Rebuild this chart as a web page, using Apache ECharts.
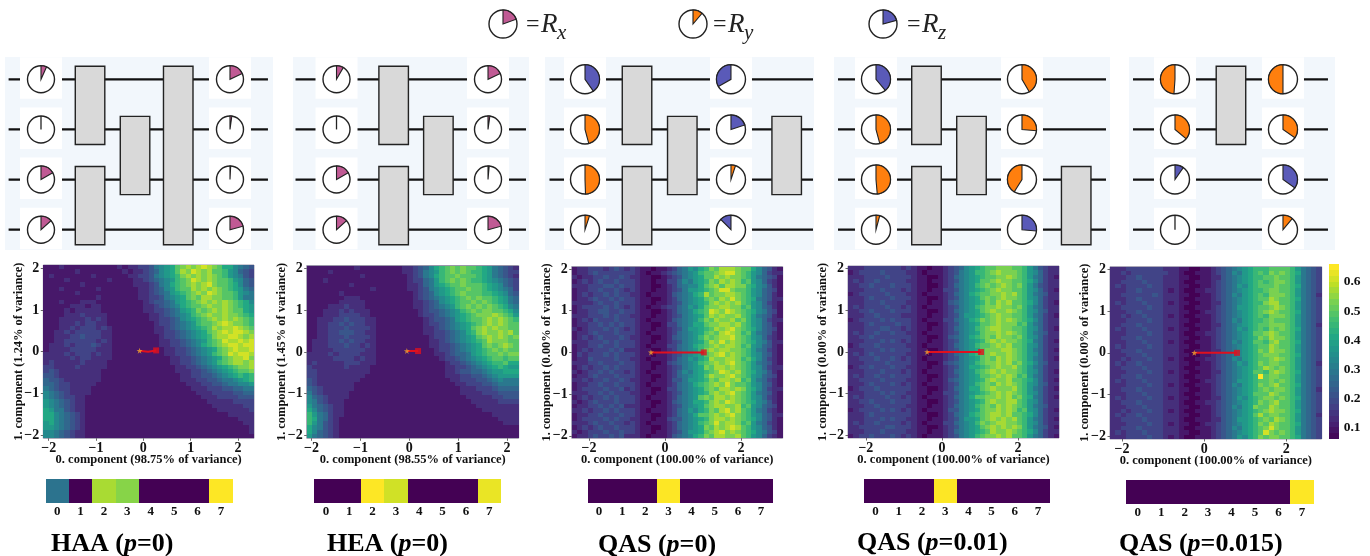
<!DOCTYPE html>
<html><head><meta charset="utf-8">
<style>html,body{margin:0;padding:0;background:#fff}#c{width:1370px;height:556px;filter:blur(0.45px)}</style>
<script src="https://cdn.jsdelivr.net/npm/echarts@6/dist/echarts.min.js"></script>
</head><body><div id="c"></div>
<script>
// ---------- values ----------
// heat levels (hex digit per cell, 0 = 0.06 ... f = 0.65), top row first
const haaRows=[
"1112111111111121223346789bcdcdedcb997654","1111112111111112122345789bdcedcdbba87543","1211111112111111223346789acdcdcdcba87643",
"1111211111112111122345678abcedcdcbba8754","1111111211111111122234679abcdcdecbba9754","1112111111211111112234578abbdcdcdcba9865",
"1111112111111111112234568 9abcdcedcbba876","1111111111211111112233467 89bcbddccbba86","1112111222111111111234456 89abcdcdcdcba97",
"1111122212211111111223456 79abbcdccdcba98","1111212222211111111223345 689acbcdcdcbb98","1111222322221111111122345 678abcdccdccba9",
"1112222232321111111122334 5789abcdcdcdcba","1112223233221111111112334 5678abbcdedccba","1112232333232111111112234 56789abdcddedcb",
"1122323333322111111112233 4567 89bcdedeedc","1122233433322111111111233 4 56789acddeedcd","1122333333232111111111223 34567 8abceddede",
"1222323334322111111111223 3 45679abcdeedee","1222233333222111111111122 33456 789bcdedde","2222323332322111111111122 334567 8abcedeed",
"2222232332222111111111112 23345 6789bcddec","2322222322221111111111112 2334 5678abcddcd","3322223222221111111111111 22334 5678 9abccdb",
"3432222222211111111111111 22233 4567 89abbcb","4432222222211111111111111 12233 4456 789a9ab","5443222222211111111111111 1222334 456 6789a9",
"5543322222111111111111111 1122233 445 66778","6543322221111111111111111 1112223 3344 5566","7654322221111111111111111 1111222 3333 4455",
"7654332211111111111111111 1111122 2333 3444","8765432211111111111111111 1111112 2222 3333","8765432211111111111111111 1111111 2222 2233",
"9866432211111111111111111 1111111 1222 2223","9976543211111111111111111 1111111 1112 2222","9976543211111111111111111 1111111 1111 1222",
"8976543211111111111111111 1111111 1111 1122","8876543211111111111111111 1111111 1111 1112","7765432211111111111111111 1111111 1111 1112","7765432211111111111111111 1111111 1111 1111"];
const heaRows=[
"1111111112111111112234579abcbcbba9865432","1111211111111111112234678abcbcbaa9865433","1111111111211111111234679abbcbbba9865432",
"1112111111111111111233568abcbcbaa9876543","1111111121111111111223568 9abbcbbba987543","1111111111112111111223467 89abbcbba987653",
"1111112111111111111123457 89abcbbbaa98754","1111111222111111111123456 789abcbcbba9865","1111112222211111111122345 789abbcbcba9865",
"1111222322211111111122345 678abcbcbcba976","1112223232221111111112344 5678abcbccbba97","1112223333221111111112334 56789abcccdcba8",
"1122233433322111111111234 45689abbcdcdcba","1122334343322111111111233 45678 9abcdcdcbb","1122333433332111111111223 4567 89bcdcdccb",
"1122334443322111111111223 3 45679acdccdcdb","1122333433332111111111123 345678 9bcdcdcbc","1222334343322111111111122 34567 89abdcccb",
"1222333433232111111111122 33456 789bcbcdcb","1222233333322111111111112 33456 789abcbcbb","2222323333222111111111112 2345 5689abbcbc",
"2222233332322111111111111 2334 5678 9abbab","2322222333222111111111111 12334 567 89aab9","3222222322221111111111111 12233 456 789a98",
"3322222222221111111111111 1223 4455 67889","3322222222211111111111111 1222 3344 56788","4322222222111111111111111 1122 3334 45676",
"4322222221111111111111111 1112 2333 44566","5432222221111111111111111 1111 2223 33455","6432222211111111111111111 1111 2222 33344",
"7543222211111111111111111 1111 1222 22334","7643222111111111111111111 1111 1122 22233","8654322111111111111111111 1111 1112 22222",
"9754322111111111111111111 1111 1111 22222","a865322111111111111111111 1111 1111 11222","a965321111111111111111111 1111 1111 11122",
"a864321111111111111111111 1111 1111 11112","9764321111111111111111111 1111 1111 11111","9754321111111111111111111 1111 1111 11111","8654321111111111111111111 1111 1111 11111"];
const qas0Rows=[
"12233323432321101123 56879acbdddcbb975421","12234333333321011234 5678abbcdeecba875322","21223343343221100123 46789bbdcdccba865431",
"12323433433321101133 57689acbdcdcab875321","22233344343321100123 56779bcdbddcca976421","12233433432321101123 46889abceecbba875431",
"12323343433221011124 5679adbccddcba875421","12234334343321100123 56789bcbdcecba965422","22223433433321101123 46789acdcdcdba875321",
"12333343432321011233 56879bccddccab875421","12233443343321100123 5679abedcedcba976431","22233343433221101123 46789bdcdccdba865421",
"12324333433321011124 5678acbdccdbca875322","12233434343321100133 56799bccddcdba875421","21233343432321101123 46889abdcdecba975431",
"12234333433321011123 56789bcbdedcab865421","12323433343221100124 5678acbcddecba875321","22233343433321101123 46789bdcecdcba976422",
"12233433433321011133 5679abcdcddcab875421","12323334342221100123 5678acdcddccba865321","13233343433321101123 46789bcdecdcba875421",
"12243333433221011123 56879adccddcab975321","22233433343321100134 5678abcdcdecba865421","12323343433321101123 46789cbddcdcba875322",
"21233434332321011123 57689abcedcdba976421","12234333433321100123 56789bdccdecba875431","22323343343221101124 46889acbddcdab865321",
"12233433433321011123 5679abcdcecbba875421","12333343342321100133 56789bcbddcdca975322","22233434333221101123 46789acdcdecba865421",
"12323343433321011123 5678bcbddcdcba875321","21234333433321100124 56799acdcedcba976421","12233434342221101123 46789bcddccdab875431",
"22323343433321011123 56879acbdecdba865321","12233433343321100123 5679bbcdcdecba875422","12333343433221101134 46789acddcdcba975421",
"22234334332321011123 5678abcecddcab865321","12323433433321100123 56789cbdcdedba875421","21233343343321101123 46889bcdecdcba976431","12234334342221011124 5679acbddccdba875321"];
const qas1Rows=[
"22233333332321101123 45789abbcccbba864322","12333343333221011123 4678aabcdcccba875322","22233334333321100123 56789abbccdcba865321",
"23233433333221101123 46789bbcdccbba975322","22334333433321100123 5678abcbcdcbca864322","22233343332321101133 46789abcdccbba875321",
"12333334333221011123 5679abbccdcdba865422","22234333433321100123 46789bcbcdccba875322","22233343333221101124 56789acbdcdbba975321",
"23233334332321011123 4678abccdccbca865322","22334333433321100123 56789bcdccdcba875422","22233433332221101123 46889abcdccbba865321",
"12333343433321011133 5679acbcdcdcba975322","22234333343321100123 46789bbcdcccab865322","22233344332321101123 5678abcddccbba875321",
"23233433433221011123 46789bccdcdcba865422","22334333333321100124 5679abcbdccbca875322","22233343432321101123 46789acdcdccba965321",
"12333433333221011123 5678abbcdcdbba875322","22233343433321100123 46789bcccddcba865321","23234333333221101123 5679abcdccdcba875322",
"22333433432321011123 46789bcbdcdcba865321","22233334333321100134 5678abccdcdbca975422","12334333433221101123 46799abcdccdba865322",
"22233343332321011123 5678abcdcdccba875321","23233433433321100123 46789bbcdcdcab865322","22333343333221101124 56789acdccdbba975321",
"22234333432321011123 4678abcbdcdcba875422","12333433333321100123 56799bcdcccdba865321","22233343433221101133 46789abcdcdcba875322",
"23233334332321011123 5679bbccdcdbca965321","22334333433321100123 46789acdccddba875322","22233433333221101123 5678abcbdcdcba865422",
"12333343432321011124 46789bccdcdcab875321","22234333333321100123 5679abcddcdbba975322","22233343433221101123 46889bcdcdcdba865321",
"23233433332321011133 5678acbcddccba875322","22333334433321100123 46789bcdcdcdca865421","22233343333221101123 56789abdccdcba975322","12334333432321011123 4678abccdcdbba865321"];
const qas2Rows=[
"22233333332221100112 3456789aaabbbba8654333","22323333333221001112 3457689abacbcba9654333","22233433332221100112 2456789aabbcbba8654323",
"22333343332221001112 3456789ababccba8654333","23233334332221100112 3456879abbbcbba9654323","22233433332121001122 3456789aabccbba8654333",
"22333333432221100112 3457689abacccba8654233","22233433332221001112 3456789abbdcbba9654333","23233343332121100112 2456789aacddbba8654323",
"22333334332221001112 3456889abbcdcba8654333","22233433332221100122 3456789abcdcbba9654333","22323343332121001112 3456789abacccba8654323",
"22233334332221100112 3457689aabcbbba8654333","22333433332221001112 2456789abbcccba8654233","23233343332121100112 3456879abacbcba9654333",
"22233334332221001122 3456789bbcdcbba8654323","22333433332221100112 3456789acbdccba8654333","22233343332121001112 3457689bbacdbba9654333",
"23233334332221100112 3456789abbdcbba8654323","22333433332221001112 2456789acbdccba8654333","22233343332221100112 3456789abcccbba9654323",
"22323334332121001122 3457689abbcdcba8654333","23233433332221100112 3456879acbccbba8654233","22333343332221001112 3456789abdcbcba8654333",
"22233334332121100112 2456789bbacdcba9654323","22333433332221001112 3456789afbccbba8654333","23233343332221100122 3456889abbcbcba8654333",
"22233334332121001112 3457689acbcdbba9654323","22333433332221100112 3456789abcbccba8654233","22233343332221001112 3456789bbbdcbba8654333",
"23233334332121100112 2456879abccbcba9654333","22333433332221001122 3456789acbcdbba8654323","22233343332221100112 3457689cbbdcbba8654333",
"22323334332121001112 3456789abcdccba9654333","23233433332221100112 3456789bdbccbba8654233","22333343332221001112 2456889abcbdcba8654333",
"22233334332121100122 3456789acbdcbba9654323","22333433332221001112 3457689abcecbba8654333","23233343332221100112 3456789abecbcba8654333","22233334332121001112 3456879acbccbba9654323"];
const colorbarValues=[0.061,0.081,0.101,0.121,0.141,0.161,0.181,0.201,0.221,0.241,0.261,0.281,0.301,0.321,0.341,0.361,0.381,0.401,0.421,0.441,0.461,0.481,0.501,0.521,0.541,0.561,0.581,0.601,0.621,0.641];
const colorbarTicks=[0.1,0.2,0.3,0.4,0.5,0.6];
// eight-cell strips under the maps
const haaStrip=[0.38,0,0.87,0.82,0,0,0,1];
const heaStrip=[0,0,1,0.93,0,0,0,0.97];
const qas0Strip=[0,0,0,1,0,0,0,0];
const qas1Strip=[0,0,0,1,0,0,0,0];
const qas2Strip=[0,0,0,0,0,0,0,1];
const stripTicks=[0,1,2,3,4,5,6,7];
// optimisation paths: [x, y] start (star) and end (square)
const haaPath=[[-0.08,0.02],[0.1,0.0],[0.27,0.03]];
const heaPath=[[-0.05,0.02],[0.18,0.02]];
const qas0Path=[[-0.37,0],[1.02,0]];
const qas1Path=[[-0.39,0],[1.03,0]];
const qas2Path=[[-0.24,0],[0.8,0]];
// circuits: gates [layer, first wire, last wire]; dials [layer, wire, gate, rotation in degrees]
const haaGates=[[1.09,0,1],[1.09,2,3],[2.09,1,2],[3.05,0,3]];
const heaGates=[[1.27,0,1],[1.27,2,3],[2.264,1,2]];
const qas0Gates=[[1.156,0,1],[1.156,2,3],[2.162,1,2],[4.482,1,2]];
const qas1Gates=[[1.122,0,1],[1.122,2,3],[2.122,1,2],[4.449,2,3]];
const qas2Gates=[[1.244,0,1]];
const haaDials=[[0,0,'Rx',24],[0,1,'Rx',0],[0,2,'Rx',60],[0,3,'Rx',48],[4.2,0,'Rx',65],[4.2,1,'Rx',8],[4.2,2,'Rx',3],[4.2,3,'Rx',75]];
const heaDials=[[0,0,'Rx',30],[0,1,'Rx',0],[0,2,'Rx',60],[0,3,'Rx',48],[3.367,0,'Rx',65],[3.367,1,'Rx',8],[3.367,2,'Rx',5],[3.367,3,'Rx',75]];
const qas0Dials=[[0,0,'Rz',145],[0,1,'Ry',165],[0,2,'Ry',178],[0,3,'Ry',18],[3.244,0,'Rz',-120],[3.244,1,'Rz',72],[3.244,2,'Ry',18],[3.244,3,'Rz',-45]];
const qas1Dials=[[0,0,'Rz',140],[0,1,'Ry',165],[0,2,'Ry',175],[0,3,'Ry',15],[3.244,0,'Ry',150],[3.244,1,'Ry',95],[3.244,2,'Ry',-148],[3.244,3,'Rz',95]];
const qas2Dials=[[0,0,'Ry',-176],[0,1,'Ry',130],[0,2,'Rz',35],[0,3,'Ry',0],[2.4,0,'Ry',-180],[2.4,1,'Ry',125],[2.4,2,'Rz',125],[2.4,3,'Ry',40]];
const legendDials=[[1,0,'Rx',70],[2,0,'Ry',40],[3,0,'Rz',75]];
const wireIndices=[0,1,2,3];
const mapTicksX4=[-2,-1,0,1,2];
const mapTicksX2=[-2,0,2];
const mapTicksY=[-2,-1,0,1,2];

// ---------- layout and style ----------
const serif='"Liberation Serif","Times New Roman",serif';
const viridis=['#440154','#482475','#414487','#355f8d','#2a788e','#21918c','#22a884','#44bf70','#7ad151','#bddf26','#fde725'];
const dialColor={Rx:'#c05a94',Ry:'#ff7f0e',Rz:'#5a5ab8'};
const grid=[],xAxis=[],yAxis=[],series=[],heatIdx=[],stripIdx=[];
const minus=v=>String(v).replace('-','\u2212');
function addGrid(g,x,y){const i=grid.length;grid.push(g);xAxis.push(Object.assign({type:'value',gridIndex:i,show:false,scale:true},x));yAxis.push(Object.assign({type:'value',gridIndex:i,show:false,scale:true},y));return i;}

function dialSeries(gi,dials,r,white){
  series.push({type:'custom',xAxisIndex:gi,yAxisIndex:gi,z:5,silent:true,clip:false,
    data:dials.map(d=>[d[0],d[1]]),
    renderItem(params,api){
      const d=dials[params.dataIndex];const p=api.coord([d[0],d[1]]);const cx=p[0],cy=p[1];
      const ch=[];
      if(white)ch.push({type:'rect',shape:{x:cx-21,y:cy-22,width:42,height:41.5},style:{fill:'#fff'}});
      ch.push({type:'circle',shape:{cx,cy,r},style:{fill:'#fff',stroke:'#222',lineWidth:1.4}});
      if(d[3]===0){ch.push({type:'line',shape:{x1:cx,y1:cy,x2:cx,y2:cy-r},style:{stroke:'#222',lineWidth:1.3}});}
      else{const a=d[3]*Math.PI/180;ch.push({type:'sector',shape:{cx,cy,r,r0:0,startAngle:-Math.PI/2,endAngle:-Math.PI/2+a,clockwise:a>0},style:{fill:dialColor[d[2]],stroke:'#222',lineWidth:1.1}});}
      return {type:'group',children:ch};
    }});
}
function circuit(g,xMin,xMax,wireFrom,wireTo,gates,dials,r){
  const gi=addGrid(Object.assign({show:true,backgroundColor:'#f2f7fc',borderWidth:0,top:57,height:193},g),{min:xMin,max:xMax},{min:-0.445,max:3.405,inverse:true});
  series.push({type:'custom',xAxisIndex:gi,yAxisIndex:gi,z:2,silent:true,data:wireIndices.map(w=>[wireFrom,w]),
    renderItem(params,api){const w=api.value(1);const a=api.coord([wireFrom,w]),b=api.coord([wireTo,w]);
      return {type:'line',shape:{x1:a[0],y1:a[1],x2:b[0],y2:b[1]},style:{stroke:'#111',lineWidth:2.2}};}});
  dialSeries(gi,dials,r,true);
  series.push({type:'custom',xAxisIndex:gi,yAxisIndex:gi,z:6,silent:true,data:gates,
    renderItem(params,api){const l=api.value(0);const a=api.coord([l-0.328,api.value(1)-0.26]),b=api.coord([l+0.328,api.value(2)+0.3]);
      return {type:'rect',shape:{x:a[0],y:a[1],width:b[0]-a[0],height:b[1]-a[1]},style:{fill:'#d9d9d9',stroke:'#222',lineWidth:1.4}};}});
}
circuit({left:5,width:268},-0.8,5.156,-0.72,5.044,haaGates,haaDials,13.5);
circuit({left:293,width:236},-0.967,4.278,-0.911,4.211,heaGates,heaDials,13.5);
circuit({left:545,width:269},-0.889,5.089,-0.789,5.067,qas0Gates,qas0Dials,14.5);
circuit({left:834,width:276},-0.933,5.2,-0.844,5.111,qas1Gates,qas1Dials,14.5);
circuit({left:1129,width:206},-1.022,3.556,-0.933,3.4,qas2Gates,qas2Dials,14.5);
// legend dials
const lg=addGrid({left:480,top:4,width:430,height:40},{min:0.879,max:3.142},{min:-1,max:1});
dialSeries(lg,legendDials,14,false);

function cellSeries(gi,cells,w,h,bucket){
  bucket.push(series.length);
  series.push({type:'custom',xAxisIndex:gi,yAxisIndex:gi,z:3,silent:true,data:cells,encode:{x:0,y:1},
    renderItem(params,api){const x=api.value(0),y=api.value(1);const a=api.coord([x-w/2,y+h/2]),b=api.coord([x+w/2,y-h/2]);
      const x0=Math.round(a[0]),y0=Math.round(a[1]),x1=Math.round(b[0]),y1=Math.round(b[1]);
      return {type:'rect',shape:{x:x0,y:y0,width:x1-x0,height:y1-y0},style:{fill:api.visual('color')}};}});
}
const tickStyle={show:true,length:2.5,lineStyle:{color:'#444',width:0.8}};
const labelStyle={fontFamily:serif,fontWeight:'bold',fontSize:14,color:'#111'};
function heat(g,xMin,xMax,yMin,yMax,ticksX,rows,path,xName,yName){
  const gi=addGrid(Object.assign({show:true,borderColor:'#9a96aa',borderWidth:1,backgroundColor:'#fff'},g),
   {show:true,min:xMin,max:xMax,position:'bottom',axisLine:{show:false,onZero:false},splitLine:{show:false},axisTick:Object.assign({customValues:ticksX},tickStyle),
    axisLabel:Object.assign({customValues:ticksX,margin:3,formatter:minus,hideOverlap:false,showMinLabel:true,showMaxLabel:true},labelStyle),
    name:xName,nameLocation:'middle',nameGap:15,nameMoveOverlap:false,nameTextStyle:{fontFamily:serif,fontWeight:'bold',fontSize:12.5,color:'#111',verticalAlign:'top'}},
   {show:true,min:yMin,max:yMax,position:'left',axisLine:{show:false,onZero:false},splitLine:{show:false},axisTick:Object.assign({customValues:mapTicksY},tickStyle),
    axisLabel:Object.assign({customValues:mapTicksY,margin:4,formatter:minus,hideOverlap:false},labelStyle),
    name:yName,nameLocation:'middle',nameGap:19,nameMoveOverlap:false,nameTextStyle:{fontFamily:serif,fontWeight:'bold',fontSize:12.4,color:'#111'}});
  const clean=rows.map(s=>s.replace(/\s/g,''));
  const nr=clean.length,nc=40,w=(xMax-xMin)/nc,h=(yMax-yMin)/nr,cells=[];
  clean.forEach((s,ri)=>{for(let i=0;i<nc;i++){const L=parseInt(s[i]||s[s.length-1],16);cells.push([xMin+(i+0.5)*w,yMax-(ri+0.5)*h,0.06+L*0.0393]);}});
  cellSeries(gi,cells,w,h,heatIdx);
  series.push({type:'line',xAxisIndex:gi,yAxisIndex:gi,z:8,silent:true,symbol:'none',smooth:false,data:path,lineStyle:{color:'#e0101e',width:2},animation:false});
  series.push({type:'scatter',xAxisIndex:gi,yAxisIndex:gi,z:9,silent:true,symbol:'rect',symbolSize:6,data:[path[path.length-1]],itemStyle:{color:'#e0101e'}});
  series.push({type:'scatter',xAxisIndex:gi,yAxisIndex:gi,z:10,silent:true,symbol:'path://M50 0 L62 35 L100 35 L69 57 L81 95 L50 72 L19 95 L31 57 L0 35 L38 35 Z',symbolSize:6,data:[path[0]],itemStyle:{color:'#f0a030'}});
}
heat({left:43.3,top:265,width:210.7,height:173.3},-2.114,2.338,-2.08,2.08,mapTicksX4,haaRows,haaPath,'0. component (98.75% of variance)','1. component (1.24% of variance)');
heat({left:306.7,top:265.5,width:212,height:172.8},-2.10,2.24,-2.07,2.07,mapTicksX4,heaRows,heaPath,'0. component (98.55% of variance)','1. component (1.45% of variance)');
heat({left:571.7,top:266.5,width:211,height:171.8},-2.455,3.097,-2.06,2.06,mapTicksX2,qas0Rows,qas0Path,'0. component (100.00% of variance)','1. component (0.00% of variance)');
heat({left:848,top:266,width:211,height:172},-2.47,3.08,-2.06,2.06,mapTicksX2,qas1Rows,qas1Path,'0. component (100.00% of variance)','1. component (0.00% of variance)');
heat({left:1110,top:266.7,width:211.7,height:172.3},-2.29,2.86,-2.06,2.06,mapTicksX2,qas2Rows,qas2Path,'0. component (100.00% of variance)','1. component (0.00% of variance)');
// colour bar
const cb=addGrid({left:1329.3,top:267,width:9.4,height:172},{min:0,max:1},
  {show:true,position:'right',min:0.061,max:0.651,axisLine:{show:false,onZero:false},splitLine:{show:false},axisTick:{show:false},
   axisLabel:Object.assign({customValues:colorbarTicks,margin:5,formatter:v=>Number(v).toFixed(1)},labelStyle,{fontSize:13.5})});
cellSeries(cb,colorbarValues.map(v=>[0.5,v+0.01,v+0.01]),1,0.02,heatIdx);
// strips
function strip(g,vals){
  const gi=addGrid(Object.assign({top:479,height:24.3},g),
    {show:true,min:-0.5,max:7.5,position:'bottom',axisLine:{show:false,onZero:false},splitLine:{show:false},axisTick:{show:false},
     axisLabel:Object.assign({customValues:stripTicks,margin:2},labelStyle,{fontSize:13})},{min:0,max:1});
  cellSeries(gi,vals.map((v,i)=>[i,0.5,v]),1,1,stripIdx);
}
strip({left:45.5,width:187.1},haaStrip);
strip({left:314.3,width:186.6},heaStrip);
strip({left:587.5,width:185.1},qas0Strip);
strip({left:864,width:185.6},qas1Strip);
strip({left:1126,width:187.7,top:480},qas2Strip);

function title(x,y,pre,post){return {type:'text',x,y,style:{text:'{b|'+pre+'}{i|p}{b|'+post+'}',verticalAlign:'middle',
  rich:{b:{fontFamily:serif,fontWeight:'bold',fontSize:26,fill:'#000',color:'#000'},i:{fontFamily:serif,fontWeight:'bold',fontStyle:'italic',fontSize:26,color:'#000'}}},silent:true};}
function legendText(x,sub,y){return [
  {type:'text',x,y:y,style:{text:'=',font:'24px '+serif,fill:'#222',verticalAlign:'middle'},silent:true},
  {type:'text',x:x+15,y:y,style:{text:'R',font:'italic 27px '+serif,fill:'#222',verticalAlign:'middle'},silent:true},
  {type:'text',x:x+31,y:y+8,style:{text:sub,font:'italic 21px '+serif,fill:'#222',verticalAlign:'middle'},silent:true}];}
const graphic=[title(51,544,'HAA (','=0)'),title(327,544,'HEA (','=0)'),title(598,545,'QAS (','=0)'),title(857,543,'QAS (','=0.01)'),title(1119,544,'QAS (','=0.015)')]
  .concat(legendText(526,'x',25),legendText(713,'y',25),legendText(907,'z',25));

const chart=echarts.init(document.getElementById('c'),null,{renderer:'canvas',width:1370,height:556});
chart.setOption({animation:false,backgroundColor:'#fff',grid,xAxis,yAxis,series,graphic,
  visualMap:[
    {show:false,type:'continuous',min:0.06,max:0.65,dimension:2,seriesIndex:heatIdx,inRange:{color:viridis}},
    {show:false,type:'continuous',min:0,max:1,dimension:2,seriesIndex:stripIdx,inRange:{color:viridis}}]});
</script></body></html>
